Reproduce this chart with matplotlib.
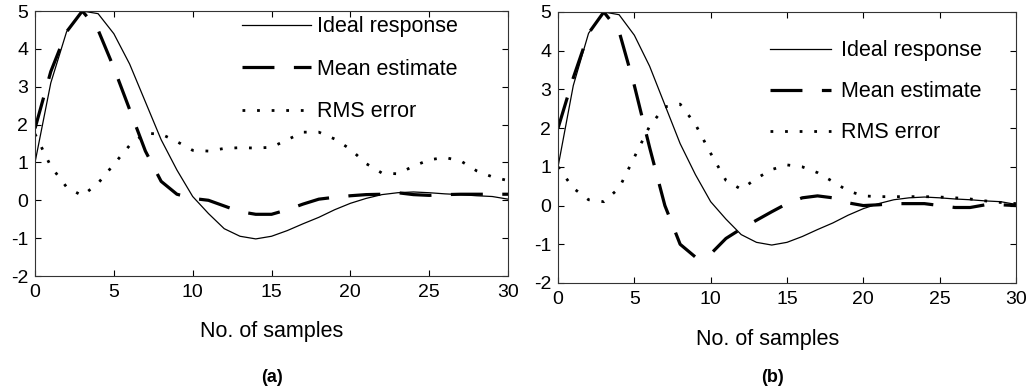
import numpy as np
import matplotlib
matplotlib.use("Agg")
import matplotlib.pyplot as plt

plt.rcParams['font.family'] = ['Liberation Sans', 'DejaVu Sans']
plt.rcParams['lines.scale_dashes'] = False
plt.rcParams['axes.unicode_minus'] = False

# samples 0..30
samples = list(range(31))

ideal = [1.0, 3.1, 4.45, 5.0, 4.93, 4.4, 3.6, 2.6, 1.6, 0.8, 0.1, -0.35, -0.75, -0.95, -1.02,
         -0.95, -0.8, -0.62, -0.45, -0.25, -0.08, 0.05, 0.15, 0.2, 0.22, 0.2, 0.17, 0.15, 0.12, 0.1, 0.03]

mean_a = [1.9, 3.4, 4.45, 5.0, 4.5, 3.5, 2.4, 1.3, 0.5, 0.16, 0.05, 0.0, -0.15, -0.3, -0.37,
          -0.37, -0.25, -0.1, 0.03, 0.08, 0.12, 0.15, 0.16, 0.2, 0.15, 0.13, 0.15, 0.16, 0.16, 0.16, 0.16]
rms_a = [1.75, 0.9, 0.35, 0.12, 0.45, 0.95, 1.45, 1.77, 1.75, 1.55, 1.32, 1.3, 1.37, 1.39, 1.38,
         1.4, 1.6, 1.8, 1.8, 1.62, 1.35, 0.97, 0.72, 0.7, 0.9, 1.07, 1.13, 1.04, 0.78, 0.62, 0.52]

mean_b = [2.0, 3.3, 4.45, 5.0, 4.5, 3.1, 1.5, 0.0, -1.0, -1.33, -1.25, -0.85, -0.6, -0.38, -0.16,
          0.05, 0.2, 0.25, 0.2, 0.07, 0.0, 0.02, 0.05, 0.05, 0.05, 0.0, -0.05, -0.05, 0.02, 0.02, 0.0]
rms_b = [1.0, 0.45, 0.15, 0.1, 0.45, 1.25, 2.05, 2.55, 2.62, 2.1, 1.35, 0.65, 0.42, 0.7, 0.93,
         1.05, 1.0, 0.85, 0.62, 0.38, 0.25, 0.23, 0.23, 0.23, 0.23, 0.22, 0.2, 0.17, 0.12, 0.08, 0.05]

fig = plt.figure(figsize=(10.33, 3.92), dpi=100)
ax_a = fig.add_axes([0.0339, 0.2959, 0.4579, 0.676])
ax_b = fig.add_axes([0.5402, 0.2781, 0.4433, 0.6913])


def draw(ax, mean, rms, leg_xy, handlelen, textpad, spacing):
    ax.plot(samples, ideal, color='black', lw=0.9, label='Ideal response')
    ax.plot(samples, mean, color='black', lw=2.3, linestyle=(0, (23, 14)),
            label='Mean estimate')
    ax.plot(samples, rms, color='black', lw=2.0, linestyle=(0, (2, 8.5)),
            label='RMS error')
    ax.set_xlim(0, 30)
    ax.set_ylim(-2, 5)
    ax.set_xticks(range(0, 31, 5))
    ax.set_yticks(range(-2, 6))
    ax.tick_params(direction='in', top=True, right=True, length=4, width=0.8,
                   labelsize=14)
    ax.tick_params(axis='x', pad=6)
    ax.tick_params(axis='y', pad=5)
    for s in ax.spines.values():
        s.set_linewidth(0.8)
        s.set_color('#333333')
    ax.legend(loc='upper left', bbox_to_anchor=leg_xy, frameon=False,
              fontsize=15.5, handlelength=handlelen, handletextpad=textpad,
              labelspacing=spacing, borderpad=0, borderaxespad=0)


draw(ax_a, mean_a, rms_a, (0.437, 0.98), 3.2, 0.3, 1.0)
draw(ax_b, mean_b, rms_b, (0.463, 0.895), 2.85, 0.45, 0.92)

fig.text(272 / 1033, 1 - 331 / 392, 'No. of samples', ha='center', va='center', fontsize=15.5)
fig.text(768 / 1033, 1 - 339 / 392, 'No. of samples', ha='center', va='center', fontsize=15.5)
fig.text(272 / 1033, 1 - 377 / 392, '(a)', ha='center', va='center', fontsize=13, fontweight='bold')
fig.text(772 / 1033, 1 - 377 / 392, '(b)', ha='center', va='center', fontsize=13, fontweight='bold')

fig.savefig('out.png', dpi=100)
